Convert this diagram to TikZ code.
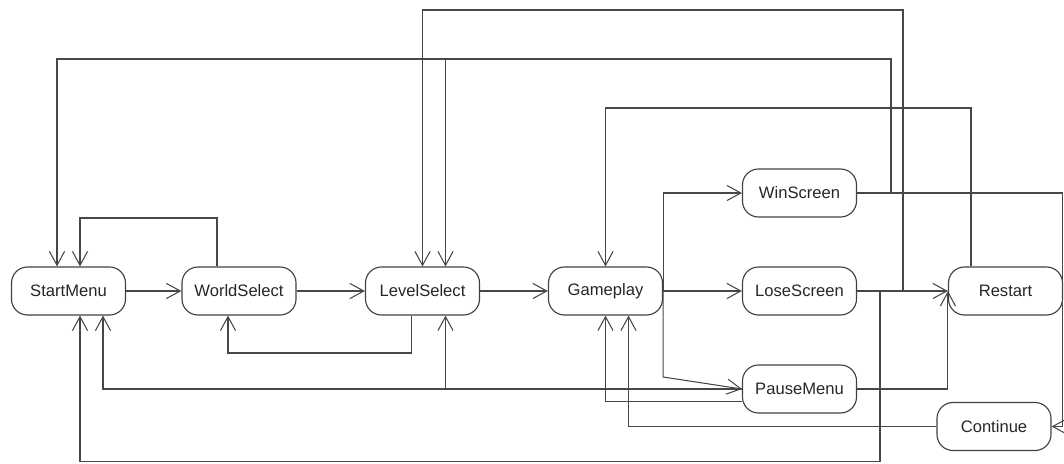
\documentclass[tikz,border=0pt]{standalone}
\usepackage{fontspec}
\setmainfont{Liberation Sans}
\usetikzlibrary{arrows.meta}

\tikzset{
    screen/.style={draw=black!75, line width=0.8pt, rectangle, rounded corners=0.4cm, minimum width=2.85cm, minimum height=1.2cm, inner sep=0pt, text=black!85, font=\fontsize{11.8pt}{13.5pt}\selectfont},
    arr/.style={-{Straight Barb[length=0.35cm,width=0.38cm]}, draw=black!72, line width=0.75pt}
}

\begin{document}
\begin{tikzpicture}[x=0.025cm, y=0.025cm]
    \useasboundingbox (0,0) rectangle (1064,463);

    \node[screen] (startmenu) at (68.5,172) {StartMenu};
    
    \node[screen] (worldselect) at (239,172) {WorldSelect};
    
    \node[screen] (levelselect) at (422.5,172) {LevelSelect};
    
    \node[screen] (gameplay) at (605.5,172) {Gameplay};
    
    \node[screen] (winscreen) at (799.5,270) {WinScreen};
    
    \node[screen] (losescreen) at (799.5,172) {LoseScreen};
    
    \node[screen] (pausemenu) at (799.5,74) {PauseMenu};
    
    \node[screen] (restart) at (1005.5,172) {Restart};
    
    \node[screen] (continue) at (994,36.5) {Continue};
    
    \draw[arr] (startmenu) -- (worldselect);
    \draw[arr] (worldselect) -- (levelselect);
    \draw[arr] (levelselect) -- (gameplay);
    \draw[arr] (gameplay) -- (losescreen);
    \draw[arr] (gameplay.east) |- (winscreen.west);
    \draw[arr] (gameplay.east) -- (gameplay.east |- 0,86) -- (pausemenu.west);
    \draw[arr] (worldselect.north -| 217,0) |- (80,245) -- (startmenu.north -| 80,0);
    \draw[arr] (levelselect.south -| 411.5,0) |- (228,110) -- (worldselect.south -| 228,0);
    \draw[arr] (winscreen.east) -| (891,404) -| (startmenu.north -| 57,0);
    \draw[arr] (winscreen.east) -| (891,404) -| (levelselect.north -| 445.5,0);
    \draw[arr] (winscreen.east) -| (1062.5,36.5) -- (continue.east);
    \draw[arr] (losescreen) -- (restart);
    \draw[arr] (losescreen.east) -| (903,453) -| (levelselect.north);
    \draw[arr] (losescreen.east) -| (880,1.5) -| (startmenu.south -| 80,0);
    \draw[arr] (restart.north -| 971,0) |- (605.5,355) -- (gameplay.north);
    \draw[arr] (pausemenu.west) -| (startmenu.south -| 103,0);
    \draw[arr] (pausemenu.west) -| (levelselect.south -| 445.5,0);
    \draw[arr] (pausemenu.west |- 0,61.3) -| (gameplay.south);
    \draw[arr] (continue.west) -| (gameplay.south -| 628.5,0);
    \draw[arr] (pausemenu.east) -| (restart.west);
\end{tikzpicture}
\end{document}
